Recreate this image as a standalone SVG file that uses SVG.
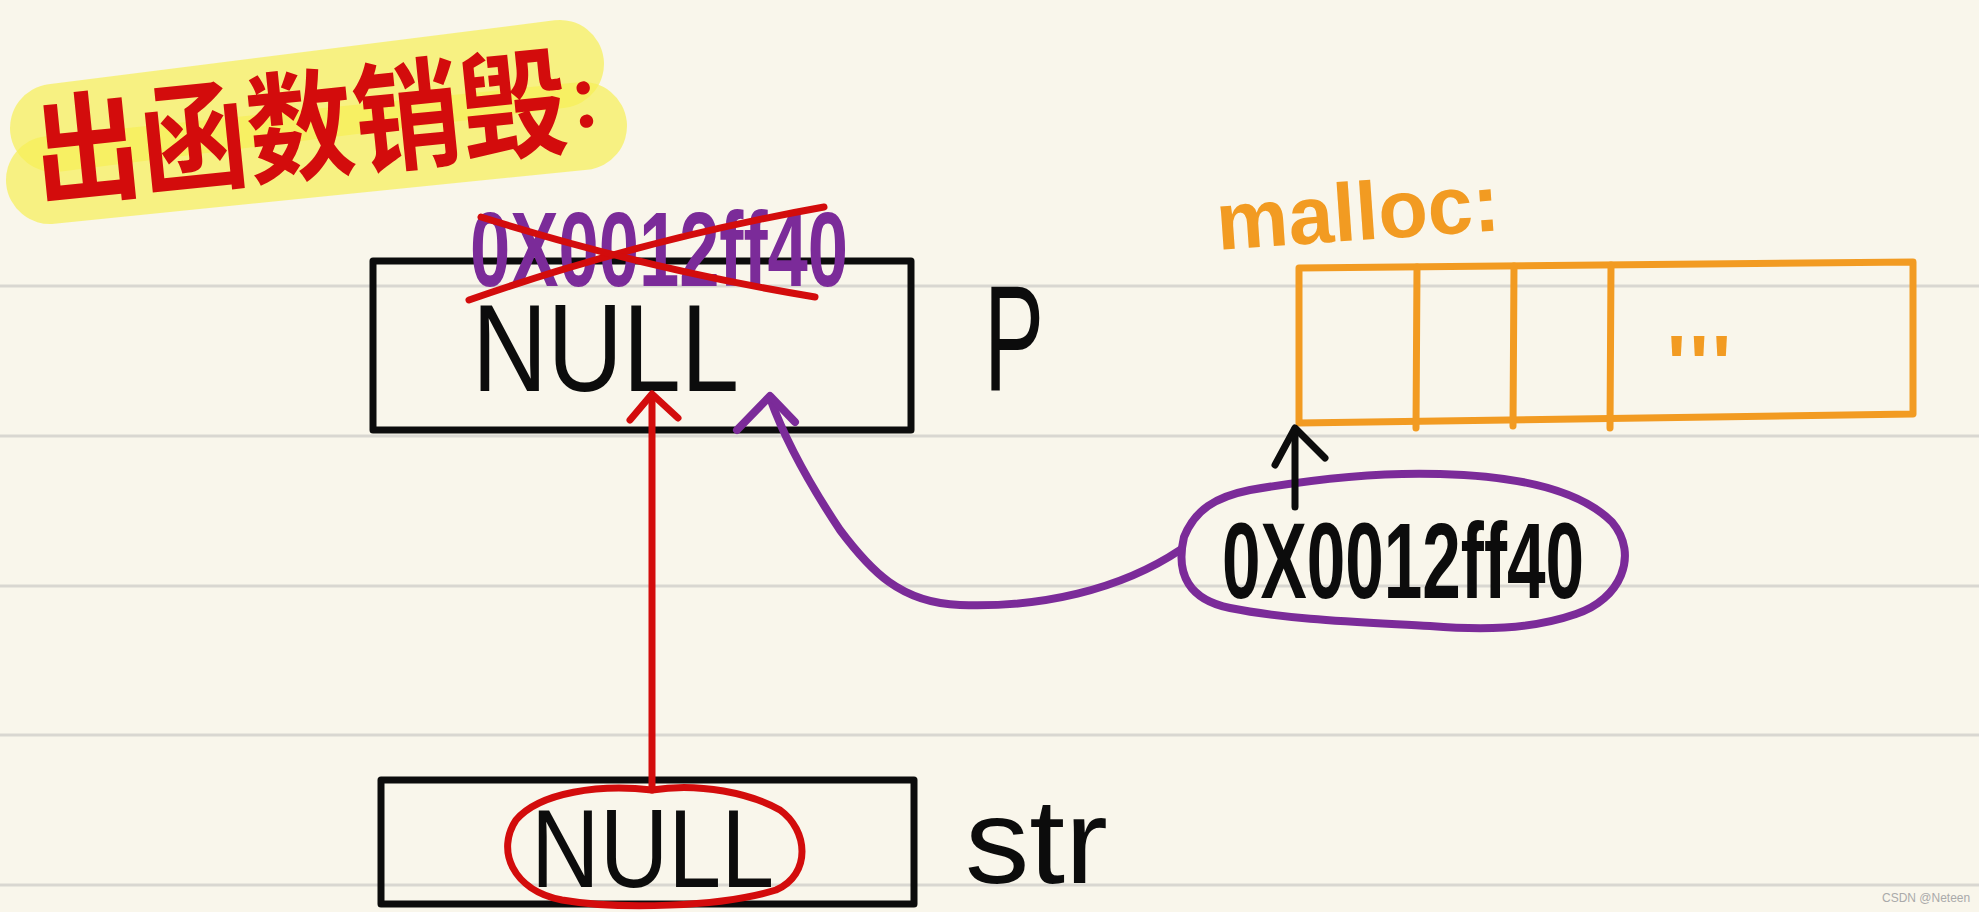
<svg xmlns="http://www.w3.org/2000/svg" width="1979" height="912" viewBox="0 0 1979 912">
<style>
.rule{stroke:#d9d7d1;stroke-width:3}
.blk{fill:none;stroke:#0c0c0c;stroke-width:7;stroke-linecap:round;stroke-linejoin:round}
.red{fill:none;stroke:#d30c0c;stroke-width:7;stroke-linecap:round;stroke-linejoin:round}
.pur{fill:none;stroke:#7b2b99;stroke-width:8;stroke-linecap:round;stroke-linejoin:round}
.org{fill:none;stroke:#f29b22;stroke-width:7;stroke-linecap:round;stroke-linejoin:round}
.hl{fill:none;stroke:#f6ef55;stroke-opacity:0.7;stroke-width:88;stroke-linecap:round}
.hand{font-family:"Liberation Sans","DejaVu Sans",sans-serif}
.cjk{font-family:"Noto Sans CJK SC","Noto Sans CJK JP",sans-serif;font-weight:bold}
</style>
<rect width="1979" height="912" fill="#f9f6eb"/>
<g id="paper-lines">
<line class="rule" x1="0" y1="286" x2="1979" y2="286"/>
<line class="rule" x1="0" y1="436" x2="1979" y2="436"/>
<line class="rule" x1="0" y1="586" x2="1979" y2="586"/>
<line class="rule" x1="0" y1="735" x2="1979" y2="735"/>
<line class="rule" x1="0" y1="885" x2="1979" y2="885"/>
</g>
<g id="title">
<line class="hl" x1="54" y1="128" x2="560" y2="64"/>
<line class="hl" x1="50" y1="180" x2="583" y2="126"/>
<g transform="rotate(-5.8 38 198)">
<text class="cjk" x="38" y="198" font-size="120" fill="#d30c0c"><tspan textLength="536" lengthAdjust="spacingAndGlyphs">出函数销毁</tspan><tspan font-size="70" dy="-15">：</tspan></text>
</g>
</g>
<g id="box-p">
<rect class="blk" x="373" y="261" width="538" height="169"/>
<text class="hand" x="472" y="391" font-size="124" fill="#0c0c0c" textLength="267" lengthAdjust="spacingAndGlyphs">NULL</text>
</g>
<g id="old-address">
<text class="hand" x="470" y="286" font-size="106" font-weight="bold" fill="#7b2b99" textLength="378" lengthAdjust="spacingAndGlyphs">0X0012ff40</text>
<path class="red" d="M469,300 Q640,240 824,207"/>
<path class="red" d="M481,217 Q650,270 815,297"/>
</g>
<g id="label-p">
<text class="hand" x="984" y="390" font-size="150" fill="#0c0c0c" textLength="60" lengthAdjust="spacingAndGlyphs">P</text>
</g>
<g id="malloc">
<text class="hand" x="1218" y="250" font-size="82" font-weight="bold" fill="#f29b22" transform="rotate(-4 1218 250)" textLength="284" lengthAdjust="spacingAndGlyphs">malloc:</text>
<path class="org" d="M1299,268 L1913,262 L1913,414 L1299,423 Z"/>
<line class="org" x1="1417" y1="267" x2="1416" y2="428"/>
<line class="org" x1="1514" y1="266" x2="1513" y2="426"/>
<line class="org" x1="1611" y1="265" x2="1610" y2="428"/>
<text class="hand" x="1667" y="391" font-size="80" font-weight="bold" fill="#f29b22" textLength="64" lengthAdjust="spacing">'''</text>
</g>
<g id="address">
<path class="pur" d="M1184,537 C1195,510 1215,497 1250,490 C1320,478 1380,472 1440,474 C1520,476 1580,490 1612,522 C1640,555 1620,600 1576,614 C1530,630 1480,630 1430,626 C1360,622 1290,620 1230,608 C1190,600 1175,575 1184,537 Z"/>
<text class="hand" x="1222" y="598" font-size="108" font-weight="bold" fill="#0c0c0c" textLength="362" lengthAdjust="spacingAndGlyphs">0X0012ff40</text>
</g>
<g id="box-str">
<rect class="blk" x="381" y="780" width="533" height="124"/>
<path class="red" d="M652,790 C600,784 540,792 516,820 C496,850 512,890 562,900 C620,910 720,907 776,890 C812,874 808,830 780,810 C752,794 700,782 652,790 Z"/>
<text class="hand" x="531" y="887" font-size="112" fill="#0c0c0c" textLength="243" lengthAdjust="spacingAndGlyphs">NULL</text>
</g>
<g id="label-str">
<text class="hand" x="965" y="883" font-size="120" fill="#0c0c0c" textLength="143" lengthAdjust="spacingAndGlyphs">str</text>
</g>
<g id="connectors">
<path class="red" d="M652,790 L652,396"/>
<path class="red" d="M630,420 L652,394 L678,418"/>
<path class="pur" d="M1180,550 C1120,590 1040,608 960,605 C900,603 870,570 840,530 C810,485 785,440 770,398"/>
<path class="pur" d="M737,430 L770,396 L795,422"/>
<path class="blk" d="M1295,507 L1295,429"/>
<path class="blk" d="M1275,465 L1295,428 L1325,458"/>
</g>
<text class="hand" x="1882" y="902" font-size="12" fill="#aaaaaa">CSDN @Neteen</text>
</svg>
